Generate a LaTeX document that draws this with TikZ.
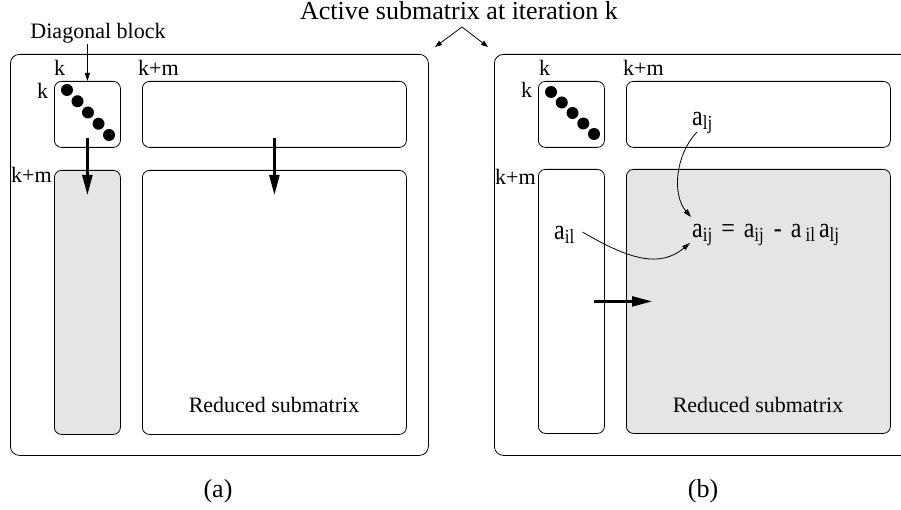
\documentclass[tikz,border=0pt]{standalone}
\usepackage{fontspec}
\setmainfont{Liberation Serif}
\usetikzlibrary{arrows.meta,calc}
\newcommand\sbs[1]{\raisebox{-3pt}{\fontsize{17}{17}\selectfont #1}}
\newcommand\tallbox[1]{\scalebox{1}[1.18]{#1}}
\definecolor{shadegray}{HTML}{E5E5E5}
\tikzset{
  box/.style={draw, line width=0.8pt, rounded corners=7pt, inner sep=0pt, anchor=north west},
  outerbox/.style={box, rounded corners=9pt},
  shaded/.style={fill=shadegray},
  lbl/.style={font=\fontsize{22}{22}\selectfont, inner sep=0pt, anchor=base west},
  txt/.style={font=\fontsize{22}{22}\selectfont, inner sep=0pt, anchor=base},
  frm/.style={font=\fontsize{24}{24}\selectfont, inner sep=0pt, anchor=base west},
  bigarrow/.style={line width=2.3pt, -{Triangle[length=20pt,width=10pt]}},
  smallarrow/.style={line width=0.8pt, -{Triangle[length=8pt,width=5pt]}},
  dot/.style={circle, fill, inner sep=0pt, minimum size=12pt},
}
\begin{document}
\begin{tikzpicture}[x=1pt,y=-1pt]
\useasboundingbox (0,0) rectangle (901,510);
\clip (0,0) rectangle (901,510);
% title
\node[txt, font=\fontsize{26}{26}\selectfont] (title) at (459,20) {Active submatrix at iteration k};
\coordinate (apex) at (462,27);
\coordinate (tipL) at (435,47);
\coordinate (tipR) at (488,47);
\draw[line width=0.8pt, -{Triangle[length=7pt,width=5pt]}] (apex) -- (tipL);
\draw[line width=0.8pt, -{Triangle[length=7pt,width=5pt]}] (apex) -- (tipR);

% ---------------- panel (a)
\node[outerbox, minimum width=418pt, minimum height=401pt] (outerA) at (10,54) {};
\node[box, minimum width=66pt, minimum height=66pt] (diagA) at (54,81) {};
\node[box, minimum width=264pt, minimum height=66pt] (topA) at (142,81) {};
\node[box, shaded, minimum width=66pt, minimum height=264pt] (colA) at (54,170) {};
\node[box, minimum width=264pt, minimum height=264pt] (redA) at (142,170) {};
\foreach \i in {0,...,4}
  \node[dot] (dA\i) at ({67+10.5*\i},{90+11.25*\i}) {};
\node[lbl] (kA1) at (54,76) {k};
\node[lbl] (kA2) at (37,99) {k};
\node[lbl] (kmA1) at (138,76) {k+m};
\node[lbl] (kmA2) at (11,183) {k+m};
\node[txt] (diaglbl) at (98,39) {Diagonal block};
\draw[smallarrow] (diaglbl.south -| diagA.north) -- (diagA.north);
\draw[bigarrow] ([yshift=10pt]diagA.south) -- ([yshift=-25pt]colA.north);
\draw[bigarrow] ([yshift=10pt]topA.south) -- ([yshift=-25pt]redA.north);
\node[txt] (redlblA) at (274,412) {Reduced submatrix};
\node[txt, font=\fontsize{26}{26}\selectfont] (capA) at (218,497) {(a)};

% ---------------- panel (b)
\node[outerbox, minimum width=418pt, minimum height=401pt] (outerB) at (494,54) {};
\node[box, minimum width=66pt, minimum height=66pt] (diagB) at (538,81) {};
\node[box, minimum width=264pt, minimum height=66pt] (topB) at (626,81) {};
\node[box, minimum width=66pt, minimum height=264pt] (colB) at (538,169) {};
\node[box, shaded, minimum width=264pt, minimum height=264pt] (redB) at (626,169) {};
\foreach \i in {0,...,4}
  \node[dot] (dB\i) at ({551+10.75*\i},{92+10.5*\i}) {};
\node[lbl] (kB1) at (539,76) {k};
\node[lbl] (kB2) at (521,98) {k};
\node[lbl] (kmB1) at (623,76) {k+m};
\node[lbl] (kmB2) at (495,185) {k+m};
\node[frm] (alj) at (692,126) {\tallbox{a\sbs{lj}}};
\node[frm] (ail) at (554,240) {\tallbox{a\sbs{il}}};
\node[frm] (aij) at (692,238) {\tallbox{a\sbs{ij}\hspace{3pt} = \hspace{3pt}a\sbs{ij}\hspace{4pt} - \hspace{3pt}a\,\sbs{il}\,a\sbs{lj}}};
\draw[smallarrow] ([shift={(5pt,-6pt)}]alj.base west) .. controls (675,155) and (672,195) .. ([shift={(-1pt,21pt)}]aij.base west);
\draw[smallarrow] ([shift={(8pt,8pt)}]ail.base east) .. controls (630,260) and (660,268) .. ([shift={(-2pt,-5pt)}]aij.base west);
\draw[bigarrow] ([xshift=-11pt]colB.east) -- ([xshift=26pt]redB.west);
\node[txt] (redlblB) at (758,412) {Reduced submatrix};
\node[txt, font=\fontsize{26}{26}\selectfont] (capB) at (703,497) {(b)};
\end{tikzpicture}
\end{document}
